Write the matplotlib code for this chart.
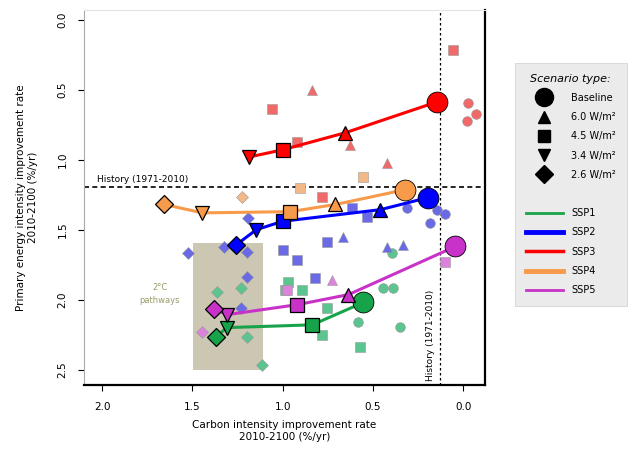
import numpy as np
import matplotlib
matplotlib.use("Agg")
import matplotlib.pyplot as plt
from matplotlib.lines import Line2D
from matplotlib.patches import Rectangle

# scenario types (marker per type)
scen_names = ["Baseline", "6.0 W/m²", "4.5 W/m²", "3.4 W/m²", "2.6 W/m²"]
scen_marks = ["o", "^", "s", "v", "D"]

ssp_names = ["SSP1", "SSP2", "SSP3", "SSP4", "SSP5"]
ssp_cols = ["#17a34a", "#0000ff", "#ff0000", "#f79a4a", "#c832c8"]
ssp_pale = ["#5cc48f", "#6a6ae6", "#f06a6a", "#f2b888", "#dc82dc"]
ssp_lw = [2.0, 3.5, 2.5, 3.5, 2.0]

# marker (Baseline, 6.0, 4.5, 3.4, 2.6) values for the marker model of each SSP
# None = scenario not available
carbon_main = {
    "SSP1": [0.553, None, 0.836, 1.31, 1.367],
    "SSP2": [0.194, 0.459, 1.0, 1.146, 1.256],
    "SSP3": [0.144, 0.653, 1.0, 1.184, None],
    "SSP4": [0.321, 0.708, 0.957, 1.444, 1.655],
    "SSP5": [0.044, 0.636, 0.919, 1.306, 1.378],
}
energy_main = {
    "SSP1": [2.02, None, 2.18, 2.2, 2.264],
    "SSP2": [1.27, 1.357, 1.44, 1.5, 1.607],
    "SSP3": [0.586, 0.807, 0.929, 0.98, None],
    "SSP4": [1.214, 1.32, 1.371, 1.38, 1.32],
    "SSP5": [1.62, 1.964, 2.036, 2.107, 2.07],
}

# other models (pale markers)
carbon_other = {
    "SSP1": [0.393, 0.443, 0.387, 0.581, 0.349, 0.968, 0.985, 0.891, 0.753, 0.78, 0.57, 1.229, 1.361, 1.195, 1.112],
    "SSP2": [0.614, 0.31, 0.144, 0.1, 0.183, 0.531, 0.664, 0.753, 0.421, 0.332, 0.919, 1.0, 0.819, 1.527, 1.323, 1.2, 1.2, 1.229, 1.19],
    "SSP3": [1.057, 0.055, 0.836, -0.028, -0.072, -0.022, 0.919, 0.625, 0.421, 0.78],
    "SSP4": [0.553, 0.902, 1.223],
    "SSP5": [0.1, 0.725, 0.974, 1.444],
}
energy_other = {
    "SSP1": [1.664, 1.914, 1.914, 2.157, 2.193, 1.871, 1.929, 1.929, 2.057, 2.25, 2.336, 1.914, 1.943, 2.264, 2.464],
    "SSP2": [1.343, 1.343, 1.357, 1.39, 1.45, 1.407, 1.55, 1.586, 1.621, 1.607, 1.714, 1.643, 1.843, 1.664, 1.621, 1.657, 1.836, 2.057, 1.42],
    "SSP3": [0.636, 0.214, 0.5, 0.593, 0.671, 0.721, 0.871, 0.893, 1.021, 1.264],
    "SSP4": [1.121, 1.2, 1.264],
    "SSP5": [1.729, 1.857, 1.93, 2.229],
}
marks_other = {
    "SSP1": ["o", "o", "o", "o", "o", "s", "s", "s", "s", "s", "s", "D", "D", "D", "D"],
    "SSP2": ["s", "o", "o", "o", "o", "s", "^", "s", "^", "^", "s", "s", "s", "D", "D", "D", "D", "D", "D"],
    "SSP3": ["s", "s", "^", "o", "o", "o", "s", "^", "^", "s"],
    "SSP4": ["s", "s", "D"],
    "SSP5": ["s", "^", "s", "D"],
}

hist_carbon = 0.127
hist_energy = 1.193
box_carbon = (1.107, 1.494)
box_energy = (1.593, 2.5)

fig = plt.figure(figsize=(6.41, 4.66), dpi=100)
ax = fig.add_axes([84/641, 81/466, 401/641, 375/466])

ax.add_patch(Rectangle((box_carbon[0], box_energy[0]), box_carbon[1]-box_carbon[0],
                       box_energy[1]-box_energy[0], facecolor="#cbc7b2", edgecolor="none", zorder=0))
ax.text(1.68, 1.96, "2°C\npathways", color="#9a9a6a", fontsize=6, ha="center", va="center", linespacing=1.6)

ax.axhline(hist_energy, color="black", ls=(0, (3, 2)), lw=1.2, zorder=1)
ax.axvline(hist_carbon, color="black", ls=(0, (2, 2)), lw=0.9, zorder=1)
ax.text(2.03, hist_energy-0.02, "History (1971-2010)", fontsize=6.5, ha="left", va="bottom")
ax.text(hist_carbon+0.03, 2.58, "History (1971-2010)", fontsize=6.5, rotation=90, ha="right", va="bottom")

for i, s in enumerate(ssp_names):
    for x, y, m in zip(carbon_other[s], energy_other[s], marks_other[s]):
        ax.plot(x, y, marker=m, ms=7 if m != "D" else 6.5, color=ssp_pale[i],
                mec="#999999", mew=0.4, ls="none", zorder=2)

for i, s in enumerate(ssp_names):
    xs = [v for v in carbon_main[s] if v is not None]
    ys = [v for v in energy_main[s] if v is not None]
    ax.plot(xs, ys, color=ssp_cols[i], lw=2.2, zorder=3)
    for j, (x, y) in enumerate(zip(carbon_main[s], energy_main[s])):
        if x is None:
            continue
        ms = 15 if j == 0 else 9.5
        ax.plot(x, y, marker=scen_marks[j], ms=ms, color=ssp_cols[i], mec="black",
                mew=0.9 if j > 0 else 0.6, ls="none", zorder=4)

ax.set_xlim(2.1, -0.12)
ax.set_ylim(2.61, -0.07)
ax.set_xticks([2.0, 1.5, 1.0, 0.5, 0.0])
ax.set_xticklabels(["2.0", "1.5", "1.0", "0.5", "0.0"])
ax.set_yticks([0.0, 0.5, 1.0, 1.5, 2.0, 2.5])
ax.set_yticklabels(["0.0", "0.5", "1.0", "1.5", "2.0", "2.5"], rotation=90, va="center")
ax.tick_params(labelsize=7.5, length=4, pad=8)
ax.set_xlabel("Carbon intensity improvement rate\n2010-2100 (%/yr)", fontsize=7.5, labelpad=6)
ax.set_ylabel("Primary energy intensity improvement rate\n2010-2100 (%/yr)", fontsize=7.5, labelpad=14)

ax.spines["left"].set_color("#aaaaaa")
ax.spines["top"].set_color("#e4e4e4")
ax.spines["bottom"].set_linewidth(1.6)
ax.spines["right"].set_linewidth(1.6)

handles = []
labels = []
for j, n in enumerate(scen_names):
    handles.append(Line2D([], [], marker=scen_marks[j], color="black", ls="none", ms=13 if j == 0 else 9))
    labels.append(n)
handles.append(Line2D([], [], color="none"))
labels.append(" ")
for i, s in enumerate(ssp_names):
    handles.append(Line2D([], [], color=ssp_cols[i], lw=ssp_lw[i]))
    labels.append(s)

leg = fig.legend(handles, labels, loc="upper left", bbox_to_anchor=(510/641, 1-58/466),
                 title="Scenario type:", title_fontproperties={"size": 8, "style": "italic"},
                 fontsize=7, frameon=True, fancybox=False, facecolor="#e6e6e6",
                 edgecolor="#cccccc", handlelength=3.8, handletextpad=0.9,
                 labelspacing=0.95, borderpad=1.1)
leg.get_frame().set_linewidth(0.6)

fig.savefig("out.png", dpi=100)
